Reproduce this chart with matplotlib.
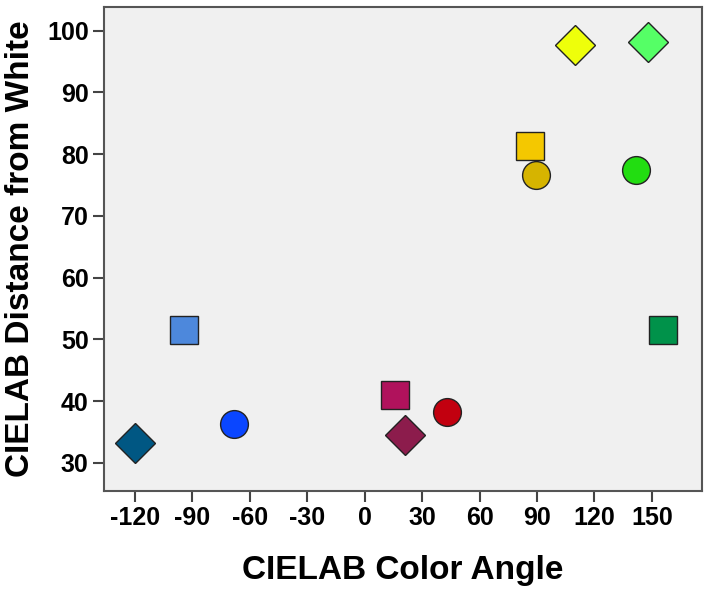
import matplotlib.pyplot as plt
import numpy as np

plt.rcParams['font.family'] = ['Liberation Sans', 'DejaVu Sans']
plt.rcParams['font.weight'] = 'bold'
plt.rcParams['axes.unicode_minus'] = False

# CIELAB color angle (x) and distance from white (y) for each sample
angle = [-120, -94, -68, 16, 21, 43, 156, 86.5, 89.7, 110, 148, 141.7]
distance = [33.2, 51.5, 36.3, 41.0, 34.5, 38.3, 51.5, 81.3, 76.7, 97.7, 98.1, 77.5]
shapes = ['D', 's', 'o', 's', 'D', 'o', 's', 's', 'o', 'D', 'D', 'o']
colors = ['#005783', '#4d88dc', '#0a46ff', '#b0125c', '#8c1c4c', '#c2000f',
          '#00924a', '#f4c800', '#d6b400', '#eeff0a', '#55ff66', '#22dd11']

xticks = [-120, -90, -60, -30, 0, 30, 60, 90, 120, 150]
yticks = [30, 40, 50, 60, 70, 80, 90, 100]

fig = plt.figure(figsize=(7.09, 5.91), dpi=100)
ax = fig.add_axes([0.1467, 0.1700, 0.8439, 0.8187])
ax.set_facecolor('#f0f0f0')

for x, y, m, c in zip(angle, distance, shapes, colors):
    ax.plot(x, y, marker=m, markersize=20, markerfacecolor=c,
            markeredgecolor='#222222', markeredgewidth=1.0, linestyle='none')

ax.set_xlim(-136, 176.3)
ax.set_ylim(25.5, 103.9)
ax.set_xticks(xticks)
ax.set_yticks(yticks)
ax.tick_params(axis='both', direction='out', length=8, width=1.5,
               color='#444444', labelsize=18, pad=3)
for s in ax.spines.values():
    s.set_color('#555555')
    s.set_linewidth(1.5)

ax.set_xlabel('CIELAB Color Angle', fontsize=24, fontweight='bold', labelpad=18)
ax.set_ylabel('CIELAB Distance from White', fontsize=24, fontweight='bold', labelpad=8)

fig.savefig('out.png', dpi=100)
